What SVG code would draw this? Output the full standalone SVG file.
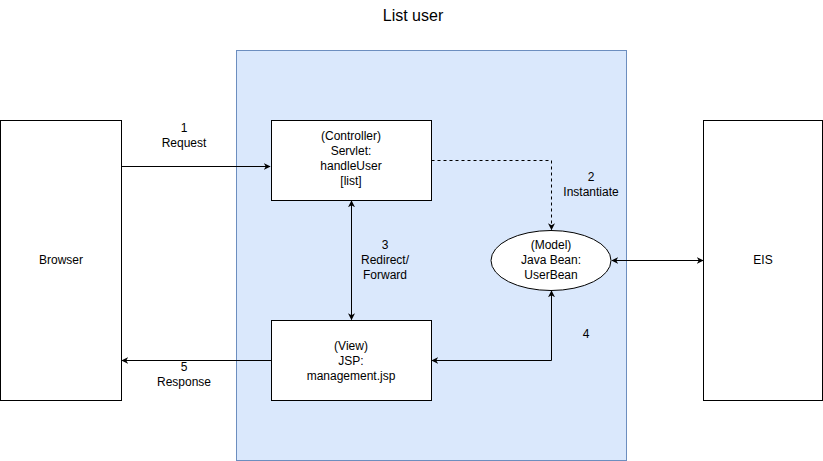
<svg xmlns="http://www.w3.org/2000/svg" width="823" height="461" viewBox="0 0 823 461">
<defs>
<style>
text{font-family:"Liberation Sans",Arial,sans-serif;font-size:12px;fill:#000;text-anchor:middle}
.box{fill:#fff;stroke:#000;stroke-width:1}
.ln{fill:none;stroke:#000;stroke-width:1}
.dash{fill:none;stroke:#000;stroke-width:1;stroke-dasharray:3 3}
</style>
<marker id="ah" viewBox="0 0 10 10" refX="9" refY="5" markerWidth="7" markerHeight="7" orient="auto-start-reverse" markerUnits="userSpaceOnUse">
<path d="M0,0 L10,5 L0,10 L3,5 z" fill="#000"/>
</marker>
</defs>
<rect width="823" height="461" fill="#fff"/>
<text x="413" y="21" style="font-size:16px">List user</text>
<g id="container"><rect x="236.5" y="50.5" width="390" height="410" fill="#dae8fc" stroke="#6c8ebf"/></g>
<g id="browser"><rect class="box" x="0.5" y="120.5" width="121" height="280"/><text x="61" y="264">Browser</text></g>
<g id="eis"><rect class="box" x="703.5" y="120.5" width="119" height="280"/><text x="763" y="264">EIS</text></g>
<g id="controller"><rect class="box" x="271.5" y="120.5" width="160" height="80"/>
<text x="351" y="140">(Controller)</text><text x="351" y="155">Servlet:</text><text x="351" y="170">handleUser</text><text x="351" y="185">[list]</text></g>
<g id="view"><rect class="box" x="271.5" y="320.5" width="160" height="80"/>
<text x="351" y="350">(View)</text><text x="351" y="365">JSP:</text><text x="351" y="380">management.jsp</text></g>
<g id="model"><ellipse class="box" cx="551" cy="260.5" rx="60" ry="30"/>
<text x="551" y="249">(Model)</text><text x="551" y="264">Java Bean:</text><text x="551" y="279">UserBean</text></g>
<g id="connectors">
<path class="ln" d="M121.5,166.5 H270" marker-end="url(#ah)"/>
<path class="dash" d="M431.5,160.5 H551.5 V229.5" marker-end="url(#ah)"/>
<path class="ln" d="M351.5,201 V319.5" marker-start="url(#ah)" marker-end="url(#ah)"/>
<path class="ln" d="M432,360.5 H551.5 V291" marker-start="url(#ah)" marker-end="url(#ah)"/>
<path class="ln" d="M271.5,360.5 H122" marker-end="url(#ah)"/>
<path class="ln" d="M612,260.5 H703" marker-start="url(#ah)" marker-end="url(#ah)"/>
</g>
<g id="labels">
<text x="184" y="132">1</text><text x="184" y="147">Request</text>
<text x="591" y="181">2</text><text x="591" y="196">Instantiate</text>
<text x="385" y="249">3</text><text x="385" y="264">Redirect/</text><text x="385" y="279">Forward</text>
<text x="586" y="338">4</text>
<text x="184" y="371">5</text><text x="184" y="386">Response</text>
</g>
</svg>
